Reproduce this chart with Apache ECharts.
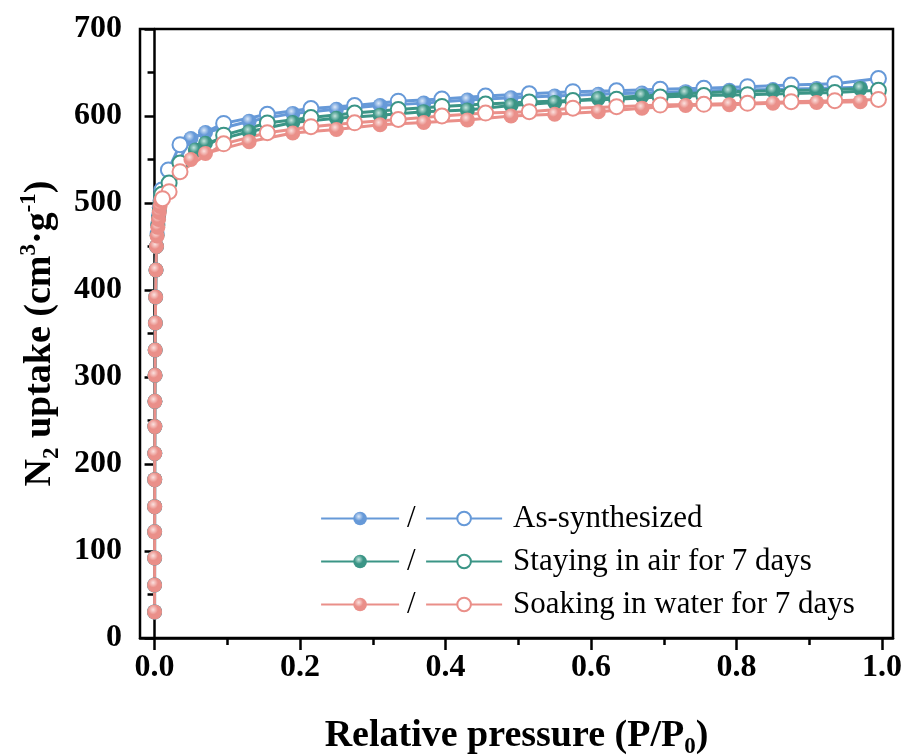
<!DOCTYPE html>
<html><head><meta charset="utf-8">
<script src="https://cdn.jsdelivr.net/npm/echarts@6/dist/echarts.min.js"></script>
<style>html,body{margin:0;padding:0;background:#fff}#c{width:905px;height:756px}</style>
</head><body><div id="c"></div>
<script>
// ---- data ----
const xTickValues = [0, 0.2, 0.4, 0.6, 0.8, 1.0];
const xMinorTickValues = [0.1, 0.3, 0.5, 0.7, 0.9];
const seriesLabels = ['As-synthesized', 'Staying in air for 7 days', 'Soaking in water for 7 days'];

// shared low-pressure adsorption column (P/P0 close to 0)
const lowPressureColumn = [
  [0.00002, 30], [0.00004, 61], [0.00007, 92], [0.0001, 122], [0.00014, 151],
  [0.0002, 182], [0.00027, 212], [0.00036, 243], [0.00048, 272], [0.00064, 302],
  [0.00085, 331], [0.0011, 362], [0.0015, 392], [0.002, 423], [0.0027, 450]
];

const blueAds = [
  [0.0035, 465], [0.0045, 476], [0.0055, 486], [0.0065, 495], [0.0075, 503], [0.0085, 510],
  [0.05, 574], [0.07, 581], [0.13, 594], [0.19, 603], [0.25, 607.7], [0.31, 612], [0.37, 614.8],
  [0.43, 618.3], [0.49, 621], [0.55, 623], [0.61, 625], [0.67, 626.5], [0.73, 628], [0.79, 629.5],
  [0.85, 630.5], [0.91, 631.5], [0.97, 633]
];
const blueDes = [
  [0.995, 643], [0.935, 637], [0.875, 635.6], [0.815, 633.7], [0.755, 631.8], [0.695, 630.7],
  [0.635, 629], [0.575, 628], [0.515, 625.5], [0.455, 623], [0.395, 619.5], [0.335, 617],
  [0.275, 612], [0.215, 608.5], [0.155, 602], [0.095, 591.5], [0.035, 567], [0.019, 538], [0.01, 515]
];
const greenAds = [
  [0.0035, 463], [0.0045, 474], [0.0055, 483], [0.0065, 491], [0.0075, 499], [0.0085, 507],
  [0.056, 561], [0.07, 568.6], [0.13, 582], [0.19, 592.5], [0.25, 597.4], [0.31, 601], [0.37, 605],
  [0.43, 607], [0.49, 612], [0.55, 615.5], [0.61, 620], [0.67, 623], [0.73, 626], [0.79, 628],
  [0.85, 629], [0.91, 630], [0.97, 631.5]
];
const greenDes = [
  [0.995, 629.5], [0.935, 627], [0.875, 626], [0.815, 624.5], [0.755, 623.5], [0.695, 621.8],
  [0.635, 619.3], [0.575, 617.7], [0.515, 616], [0.455, 613.8], [0.395, 611], [0.335, 607.4],
  [0.275, 603.4], [0.215, 598.3], [0.155, 592], [0.095, 578], [0.035, 546], [0.02, 523], [0.01, 510]
];
const pinkAds = [
  [0.0035, 462], [0.0045, 472], [0.0055, 481], [0.0065, 489], [0.0075, 496], [0.0085, 503],
  [0.05, 550], [0.07, 557], [0.13, 570.5], [0.19, 580.5], [0.25, 584.5], [0.31, 590], [0.37, 592.5],
  [0.43, 595.5], [0.49, 600], [0.55, 602], [0.61, 605], [0.67, 609], [0.73, 612], [0.79, 613],
  [0.85, 614.6], [0.91, 615.5], [0.97, 616.5]
];
const pinkDes = [
  [0.995, 619], [0.935, 617.6], [0.875, 616.5], [0.815, 614.6], [0.755, 613.4], [0.695, 612.6],
  [0.635, 610.7], [0.575, 609], [0.515, 605], [0.455, 603.4], [0.395, 600], [0.335, 596],
  [0.275, 592.2], [0.215, 587.7], [0.155, 580.8], [0.095, 568], [0.035, 536], [0.02, 513], [0.011, 505]
];

// ---- styling ----
const FONT = 'Liberation Serif';
const colors = ['#6699d8', '#3b9586', '#ea8f89'];
const highlights = ['#dbe8f8', '#c5e4de', '#fbe1df'];

function ballColor(i) {
  return {
    type: 'radial', x: 0.4, y: 0.35, r: 0.65,
    colorStops: [{ offset: 0, color: highlights[i] }, { offset: 0.5, color: colors[i] }, { offset: 1, color: colors[i] }]
  };
}
function adsSeries(i, data) {
  return {
    type: 'line', name: seriesLabels[i] + ' (adsorption)', data: lowPressureColumn.concat(data),
    symbol: 'circle', symbolSize: 15, showSymbol: true,
    lineStyle: { color: colors[i], width: 3 },
    itemStyle: { color: ballColor(i) },
    emphasis: { disabled: true }, animation: false
  };
}
function desSeries(i, data) {
  return {
    type: 'line', name: seriesLabels[i], data: data,
    symbol: 'emptyCircle', symbolSize: 15, showSymbol: true,
    lineStyle: { color: colors[i], width: 3 },
    itemStyle: { color: colors[i], borderColor: colors[i], borderWidth: 2.2 },
    emphasis: { disabled: true }, animation: false
  };
}

const chart = echarts.init(document.getElementById('c'), null, { renderer: 'canvas' });
const legendBase = {
  orient: 'vertical', top: 503, itemHeight: 17, itemGap: 12, selectedMode: false, padding: 0,
  lineStyle: { width: 2.2 }
};
chart.setOption({
  animation: false,
  backgroundColor: '#fff',
  grid: {
    left: 140, right: 12, top: 29, bottom: 118, outerBoundsMode: 'none', containLabel: false,
    show: true, borderColor: '#000', borderWidth: 2.5, backgroundColor: 'transparent'
  },
  legend: [
    Object.assign({}, legendBase, {
      left: 320, itemWidth: 78,
      data: seriesLabels.map(s => s + ' (adsorption)'),
      formatter: () => '/',
      textStyle: { fontFamily: FONT, fontSize: 31, lineHeight: 30, color: '#000', padding: [0, 0, 0, 3] }
    }),
    Object.assign({}, legendBase, {
      left: 425, itemWidth: 76,
      data: seriesLabels,
      textStyle: { fontFamily: FONT, fontSize: 31, lineHeight: 30, color: '#000', padding: [0, 0, 0, 6] }
    })
  ],
  xAxis: [{
    type: 'value', min: -0.02, max: 1.015, position: 'bottom',
    axisLine: { show: true, lineStyle: { color: '#000', width: 2.5 } },
    axisTick: { show: true, inside: false, length: 12, lineStyle: { color: '#000', width: 2.5 }, customValues: xTickValues },
    axisLabel: { customValues: xTickValues, formatter: v => v.toFixed(1), margin: 14, fontFamily: FONT, fontWeight: 'bold', fontSize: 32, color: '#000' },
    splitLine: { show: false },
    name: 'Relative pressure (P/P{sub|0})', nameLocation: 'middle', nameGap: 75,
    nameTextStyle: {
      fontFamily: FONT, fontWeight: 'bold', fontSize: 38, color: '#000', lineHeight: 46,
      rich: { sub: { fontFamily: FONT, fontWeight: 'bold', fontSize: 23, color: '#000', verticalAlign: 'bottom', lineHeight: 23 } }
    }
  }, {
    type: 'value', min: -0.02, max: 1.015, position: 'bottom',
    axisLine: { show: false },
    axisTick: { show: true, inside: false, length: 7, lineStyle: { color: '#000', width: 2.5 }, customValues: xMinorTickValues },
    axisLabel: { show: false }, splitLine: { show: false }
  }],
  yAxis: {
    type: 'value', min: 0, max: 700, interval: 100,
    axisLine: { show: true, lineStyle: { color: '#000', width: 2.5 } },
    axisTick: { show: true, inside: false, length: 10, lineStyle: { color: '#000', width: 2.5 } },
    minorTick: { show: true, splitNumber: 2, length: 7, lineStyle: { color: '#000', width: 2.5 } },
    axisLabel: { margin: 18, fontFamily: FONT, fontWeight: 'bold', fontSize: 32, color: '#000' },
    splitLine: { show: false },
    name: 'N{sub|2} uptake (cm{sup|3}·g{sup|-1})', nameLocation: 'middle', nameRotate: 90, nameGap: 76,
    nameTextStyle: {
      fontFamily: FONT, fontWeight: 'bold', fontSize: 38, color: '#000', lineHeight: 46,
      rich: {
        sub: { fontFamily: FONT, fontWeight: 'bold', fontSize: 23, color: '#000', verticalAlign: 'bottom', lineHeight: 23 },
        sup: { fontFamily: FONT, fontWeight: 'bold', fontSize: 23, color: '#000', verticalAlign: 'top', lineHeight: 23 }
      }
    }
  },
  series: [
    adsSeries(0, blueAds), desSeries(0, blueDes),
    adsSeries(1, greenAds), desSeries(1, greenDes),
    adsSeries(2, pinkAds), desSeries(2, pinkDes)
  ]
});
</script>
</body></html>
